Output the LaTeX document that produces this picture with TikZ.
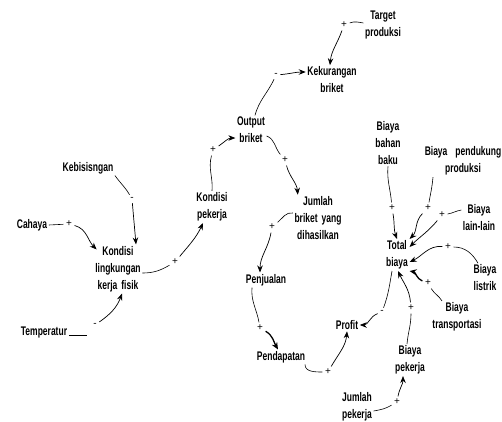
\documentclass[tikz,border=0pt]{standalone}
\usepackage{fontspec}
\usetikzlibrary{arrows.meta}
\newfontfamily\dgfont[FakeStretch=0.68]{Liberation Sans}
\newfontfamily\sgfont{Liberation Sans}
\begin{document}
\begin{tikzpicture}[x=1pt,y=-1pt,
  lbl/.style={inner sep=1.5pt,align=center,font=\dgfont\bfseries\fontsize{12.5}{17}\selectfont},
  sgn/.style={inner sep=2.5pt,font=\sgfont\fontsize{10}{10}\selectfont},
  ln/.style={line width=0.6pt},
  arr/.style={line width=0.7pt,-{Stealth[length=7pt,width=5.5pt]}},
  tarr/.style={line width=1.3pt,-{Stealth[length=7pt,width=6pt]}}]
\useasboundingbox (0,0) rectangle (502,421);
% main nodes
\node[lbl] (tp) at (383,25) {Target\\produksi};
\node[lbl] (kek) at (332,80) {Kekurangan\\briket};
\node[lbl] (ob) at (251,130) {Output\\briket};
\node[lbl] (kp) at (212,207) {Kondisi\\pekerja};
\node[lbl] (jb) at (318,218) {Jumlah\\briket\hspace{4pt}yang\\dihasilkan};
\node[lbl] (pj) at (266,280) {Penjualan};
\node[lbl] (pd) at (281,357) {Pendapatan};
\node[lbl] (pr) at (347,325) {Profit};
\node[lbl] (tb) at (397,255) {Total\\biaya};
\node[lbl] (bp) at (410,360) {Biaya\\pekerja};
\node[lbl] (jp) at (357,407) {Jumlah\\pekerja};
\node[lbl] (bb) at (388,143) {Biaya\\bahan\\baku};
\node[lbl] (bpp) at (463,161) {Biaya\hspace{8pt}pendukung\\produksi};
\node[lbl] (bl) at (479,218) {Biaya\\lain-lain};
\node[lbl] (bls) at (485,278) {Biaya\\listrik};
\node[lbl] (bt) at (457,317) {Biaya\\transportasi};
\node[lbl] (kb) at (88,168) {Kebisisngan};
\node[lbl] (ca) at (32,225) {Cahaya};
\node[lbl] (kl) at (118,269) {Kondisi\\lingkungan\\kerja\hspace{4pt}fisik};
\node[lbl] (te) at (44,332) {Temperatur};
% signs
\node[sgn] (s1) at (344,25) {+};
\node[sgn] (s2) at (276,75) {-};
\node[sgn] (s3) at (213,150) {+};
\node[sgn] (s4) at (285,160) {+};
\node[sgn] (s5) at (272,227) {+};
\node[sgn] (s6) at (260,328) {+};
\node[sgn] (s7) at (328,372) {+};
\node[sgn] (s8) at (382,312) {-};
\node[sgn] (s9) at (411,308) {+};
\node[sgn] (s10) at (397,402) {+};
\node[sgn] (s11) at (392,208) {+};
\node[sgn] (s12) at (428,208) {+};
\node[sgn] (s13) at (442,215) {+};
\node[sgn] (s14) at (448,247) {+};
\node[sgn] (s15) at (428,283) {+};
\node[sgn] (s16) at (132,199) {-};
\node[sgn] (s17) at (69,224) {+};
\node[sgn] (s18) at (175,262) {+};
\node[sgn] (s19) at (95,325) {-};
% connectors
\draw[ln] ([yshift=2pt]tp.west) to[out=170,in=20] (s1);
\draw[arr] (s1) to[out=-110,in=85] ([xshift=-2pt]kek.north);
\draw[ln] ([xshift=4pt]ob.north) to[out=75,in=-115] (s2);
\draw[arr] (s2) to[out=5,in=180] ([yshift=8pt]kek.west);
\draw[ln] (kp.north) to[out=85,in=-105] (s3);
\draw[arr] (s3) to[out=35,in=180] ([yshift=-8pt]ob.west);
\draw[ln] ([yshift=-6pt]ob.east) to[out=-20,in=130] (s4);
\draw[arr] (s4) to[out=-75,in=95] ([xshift=5pt]jb.north west);
\draw[ln] ([yshift=5pt]jb.west) to[out=170,in=40] (s5);
\draw[arr] (s5) to[out=-100,in=90] ([xshift=-6pt]pj.north);
\draw[ln] ([xshift=-14pt]pj.south) to[out=-95,in=100] (s6);
\draw[tarr] (s6) to[out=-30,in=120] ([xshift=-3pt]pd.north);
\draw[ln] ([xshift=24pt]pd.south) to[out=-90,in=180] (s7);
\draw[arr] (s7) to[out=60,in=-95] (pr.south);
\draw[ln] ([xshift=-5pt]tb.south) to[out=-100,in=70] (s8);
\draw[arr] (s8) to[out=-160,in=0] (pr.east);
\draw[ln] ([xshift=-3pt]bp.north) to[out=85,in=-90] (s9);
\draw[arr] (s9) to[out=95,in=-65] ([xshift=1pt]tb.south);
\draw[ln] ([yshift=-4pt]jp.east) to[out=10,in=-150] (s10);
\draw[arr] (s10) to[out=80,in=-90] ([xshift=-7pt]bp.south);
\draw[ln] (bb.south) to[out=-95,in=95] (s11);
\draw[arr] (s11) to[out=-80,in=110] (tb.north);
\draw[ln] ([xshift=-30pt]bpp.south) to[out=-95,in=80] (s12);
\draw[arr] (s12) to[out=-135,in=45] (tb.north east);
\draw[ln] ([yshift=8pt]bl.west) to[out=190,in=10] (s13);
\draw[arr] (s13) to[out=-130,in=45] ([yshift=8pt]tb.east);
\draw[ln] ([xshift=-7pt]bls.north) to[out=120,in=0] (s14);
\draw[arr] (s14) to[out=175,in=25] ([yshift=-7pt]tb.east);
\draw[ln] ([xshift=-15pt]bt.north) to[out=120,in=-60] (s15);
\draw[tarr] (s15) to[out=160,in=-10] (tb.south east);
\draw[ln] (kb.south east) to[out=-55,in=120] (s16);
\draw[arr] (s16) to[out=-85,in=95] ([xshift=18pt]kl.north);
\draw[ln] (ca.east) to (s17);
\draw[arr] (s17) to[out=-15,in=135] ([xshift=3pt,yshift=-5pt]kl.north west);
\draw[ln] ([yshift=-4pt]kl.east) to[out=0,in=-150] (s18);
\draw[arr] (s18) to[out=50,in=-115] ([xshift=-9pt]kp.south);
\draw[ln] (te.base east) -- ([xshift=-8pt]s19.center |- te.base);
\draw[arr] (s19) to[out=35,in=-110] ([xshift=4pt]kl.south);
\end{tikzpicture}
\end{document}
